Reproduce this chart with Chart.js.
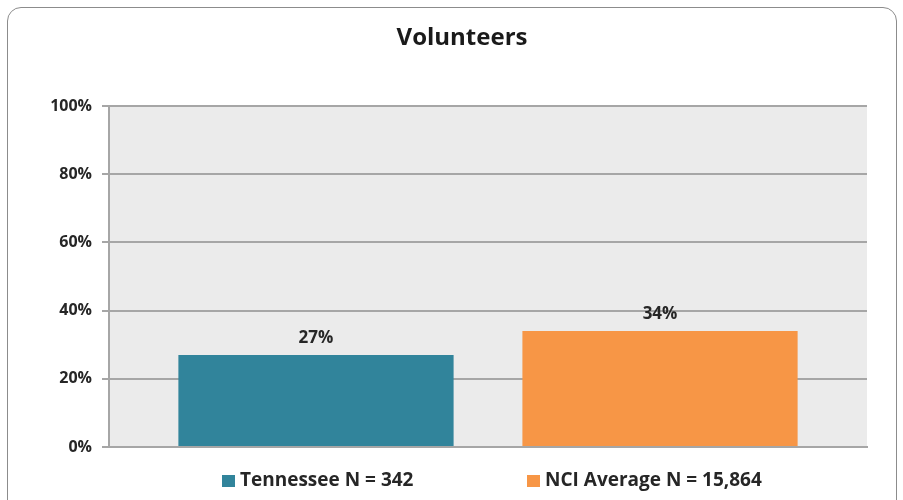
<!DOCTYPE html>
<html>
<head>
<meta charset="utf-8">
<script src="https://cdn.jsdelivr.net/npm/chart.js@4"></script>
<style>
  html, body { margin: 0; padding: 0; background: #ffffff; }
  body { width: 903px; height: 500px; position: relative; overflow: hidden; }
  #frame { position: absolute; left: 7px; top: 7px; width: 890px; height: 540px;
           border: 1px solid #8c8c8c; border-radius: 14px; box-sizing: border-box; }
  #wrap { position: absolute; left: 0; top: 0; width: 903px; height: 500px; }
</style>
</head>
<body>
<div id="frame"></div>
<div id="wrap"><canvas id="c" width="903" height="500"></canvas></div>
<script>
const titleText = "Volunteers";
const categories = [""];
const seriesNames = ["Tennessee N = 342", "NCI Average N = 15,864"];
const seriesValues = [[27], [34]];
const seriesColors = ["#31849b", "#f79646"];
const yTicks = [0, 20, 40, 60, 80, 100];

const FONT = "'Open Sans', Lato, sans-serif";

const plotBg = {
  id: "plotBg",
  beforeDraw(chart) {
    const a = chart.chartArea, ctx = chart.ctx;
    ctx.save();
    ctx.fillStyle = "#ebebeb";
    ctx.fillRect(a.left, a.top, a.right - a.left, a.bottom - a.top);
    ctx.restore();
  }
};

const titleDraw = {
  id: "titleDraw",
  afterDraw(chart) {
    const ctx = chart.ctx;
    ctx.save();
    ctx.font = "bold 24px " + FONT;
    ctx.fillStyle = "#1a1a1a";
    ctx.textAlign = "center";
    ctx.textBaseline = "middle";
    ctx.fillText(titleText, 462, 38);
    ctx.restore();
  }
};

const valueLabels = {
  id: "valueLabels",
  afterDatasetsDraw(chart) {
    const ctx = chart.ctx;
    ctx.save();
    ctx.font = "bold 17px " + FONT;
    ctx.fillStyle = "#262626";
    ctx.textAlign = "center";
    ctx.textBaseline = "middle";
    chart.data.datasets.forEach((ds, i) => {
      const meta = chart.getDatasetMeta(i);
      meta.data.forEach((bar, j) => {
        ctx.fillText(ds.data[j] + "%", bar.x, bar.y - 17);
      });
    });
    ctx.restore();
  }
};

const customLegend = {
  id: "customLegend",
  afterDraw(chart) {
    const ctx = chart.ctx;
    ctx.save();
    ctx.font = "bold 19px " + FONT;
    ctx.textBaseline = "middle";
    ctx.textAlign = "left";
    const box = 12, gapText = 6, y = 481;
    const starts = [222, 527];
    chart.data.datasets.forEach((ds, i) => {
      const x = starts[i];
      ctx.fillStyle = ds.backgroundColor;
      ctx.fillRect(x, y - box / 2, box + 1, box);
      ctx.fillStyle = "#262626";
      ctx.fillText(ds.label, x + box + gapText, y);
    });
    ctx.restore();
  }
};

new Chart(document.getElementById("c"), {
  type: "bar",
  data: {
    labels: categories,
    datasets: seriesNames.map((name, i) => ({
      label: name,
      data: seriesValues[i],
      backgroundColor: seriesColors[i],
      borderWidth: 0,
      categoryPercentage: 0.9077,
      barPercentage: 0.8
    }))
  },
  options: {
    responsive: false,
    animation: false,
    devicePixelRatio: 1,
    layout: { padding: { left: 0, right: 36, top: 106, bottom: 53 } },
    plugins: {
      legend: { display: false },
      tooltip: { enabled: false },
      title: { display: false }
    },
    scales: {
      x: {
        grid: { display: false, drawTicks: false },
        border: { display: true, color: "#a6a6a6", width: 2 },
        ticks: { display: false },
        afterFit(s) { s.height = 0; }
      },
      y: {
        min: 0, max: 100,
        afterBuildTicks(s) { s.ticks = yTicks.map(v => ({ value: v })); },
        afterFit(s) { s.width = 109; },
        grid: { color: "#a6a6a6", lineWidth: 2, tickLength: 7, tickColor: "#a6a6a6" },
        border: { display: true, color: "#a6a6a6", width: 2 },
        ticks: {
          padding: 10,
          color: "#262626",
          font: { family: FONT, size: 16, weight: "bold" },
          callback: v => v + "%"
        }
      }
    }
  },
  plugins: [plotBg, titleDraw, valueLabels, customLegend]
});
</script>
</body>
</html>
